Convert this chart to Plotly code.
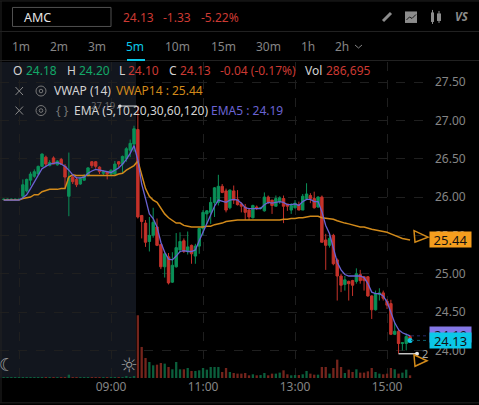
import plotly.graph_objects as go

SYMBOL = "AMC"
TABS = ["1m", "2m", "3m", "5m", "10m", "15m", "30m", "1h", "2h"]

open_ = [25.97,25.97,25.97,25.97,25.97,26.01,26.08,26.22,26.27,26.30,
 26.40,26.52,26.41,26.51,26.42,26.49,26.40,26.01,26.26,26.23,
 26.17,26.22,26.28,26.46,26.46,26.39,26.31,26.33,26.30,26.30,
 26.46,26.43,26.50,26.61,26.69,26.88,25.76,25.66,25.42,25.50,
 25.61,25.38,25.09,25.22,24.89,25.09,25.31,25.43,25.29,25.37,
 25.23,25.36,25.59,25.78,25.80,25.93,25.93,26.14,26.08,25.86,
 26.08,25.97,25.91,25.87,25.83,25.73,25.87,25.85,25.82,26.00,
 25.96,25.88,25.94,25.98,25.91,25.83,25.86,25.90,25.83,25.98,
 26.02,25.98,25.87,26.00,25.44,25.37,25.50,25.18,24.97,24.86,
 24.90,24.91,24.90,24.99,24.96,24.96,24.71,24.53,24.73,24.75,
 24.64,24.61,24.21,24.25,24.09,24.09,24.18]
high = [25.98,25.98,25.98,25.98,25.98,26.23,26.24,26.33,26.36,26.41,
 26.57,26.54,26.48,26.53,26.48,26.51,26.43,26.58,26.28,26.26,
 26.26,26.30,26.39,26.47,26.47,26.40,26.35,26.34,26.36,26.47,
 26.47,26.54,26.65,26.75,26.93,27.19,25.76,25.70,25.74,25.86,
 25.72,25.38,25.28,25.27,25.28,25.53,25.54,25.46,25.55,25.38,
 25.39,25.60,25.83,25.83,26.00,26.13,26.29,26.17,26.11,26.10,
 26.15,26.09,25.93,25.91,25.85,25.90,25.89,25.87,26.06,26.02,
 25.96,26.02,26.01,26.02,25.91,25.92,25.96,25.94,26.04,26.18,
 26.05,26.07,26.01,26.02,25.52,25.52,25.52,25.20,25.00,24.97,
 24.91,24.92,25.07,25.05,24.97,24.97,24.72,24.78,24.81,24.78,
 24.67,24.66,24.37,24.28,24.10,24.22,24.20]
low = [25.96,25.96,25.96,25.96,25.96,25.99,26.06,26.15,26.25,26.29,
 26.39,26.40,26.40,26.43,26.41,26.42,26.12,25.75,26.17,26.13,
 26.16,26.21,26.27,26.38,26.37,26.30,26.28,26.23,26.28,26.29,
 26.39,26.31,26.46,26.52,26.59,25.72,25.46,25.35,25.29,25.47,
 25.36,25.06,24.95,24.86,24.88,25.08,25.28,25.27,25.25,25.13,
 25.13,25.26,25.50,25.65,25.65,25.74,25.89,26.05,25.80,25.84,
 25.91,25.89,25.80,25.70,25.70,25.72,25.83,25.84,25.81,25.91,
 25.78,25.88,25.91,25.66,25.82,25.78,25.85,25.83,25.83,25.96,
 25.92,25.85,25.86,25.41,25.05,25.34,25.11,24.65,24.76,24.78,
 24.65,24.71,24.87,24.87,24.78,24.70,24.41,24.52,24.65,24.65,
 24.54,24.20,24.20,23.96,24.00,24.00,24.10]
close = [25.97,25.97,25.97,25.97,25.97,26.16,26.23,26.30,26.33,26.40,
 26.56,26.43,26.45,26.43,26.47,26.43,26.26,26.25,26.20,26.16,
 26.24,26.28,26.38,26.41,26.40,26.33,26.33,26.30,26.35,26.43,
 26.43,26.53,26.63,26.70,26.89,25.74,25.68,25.41,25.50,25.67,
 25.37,25.09,25.26,24.88,25.11,25.34,25.42,25.29,25.35,25.26,
 25.36,25.59,25.80,25.82,25.93,26.12,26.14,26.06,25.83,26.09,
 25.96,25.90,25.88,25.80,25.74,25.89,25.85,25.86,26.00,25.93,
 25.89,25.98,25.99,25.88,25.88,25.89,25.92,25.83,26.01,26.04,
 25.98,25.86,26.00,25.41,25.37,25.46,25.13,24.97,24.85,24.92,
 24.87,24.85,25.00,24.91,24.91,24.71,24.53,24.74,24.75,24.68,
 24.59,24.21,24.25,24.09,24.10,24.18,24.13]
ema5 = [25.96,25.96,25.96,25.96,25.96,25.99,26.03,26.11,26.20,26.28,
 26.37,26.40,26.43,26.44,26.45,26.43,26.40,26.35,26.29,26.25,
 26.25,26.26,26.31,26.34,26.36,26.35,26.34,26.33,26.32,26.35,
 26.38,26.43,26.49,26.57,26.67,26.48,26.17,25.98,25.78,25.72,
 25.61,25.41,25.28,25.19,25.18,25.23,25.29,25.30,25.29,25.29,
 25.31,25.43,25.54,25.65,25.78,25.88,25.96,25.95,25.93,25.96,
 25.97,25.96,25.92,25.86,25.85,25.85,25.85,25.85,25.90,25.93,
 25.92,25.93,25.94,25.93,25.90,25.90,25.91,25.89,25.94,25.97,
 25.97,25.94,25.94,25.81,25.63,25.52,25.33,25.15,25.05,24.99,
 24.97,24.97,24.97,24.97,24.95,24.87,24.76,24.74,24.74,24.71,
 24.63,24.48,24.36,24.27,24.23,24.21,24.19]
vwap14 = [25.96,25.96,25.96,25.96,25.96,25.98,25.99,26.00,26.03,26.03,
 26.07,26.09,26.10,26.10,26.10,26.11,26.11,26.26,26.29,26.28,
 26.28,26.28,26.28,26.28,26.28,26.28,26.28,26.28,26.28,26.28,
 26.30,26.31,26.35,26.38,26.41,26.47,26.28,26.11,26.01,25.96,
 25.93,25.86,25.78,25.73,25.69,25.66,25.66,25.63,25.62,25.61,
 25.61,25.61,25.61,25.62,25.62,25.64,25.65,25.66,25.68,25.69,
 25.69,25.70,25.70,25.70,25.70,25.70,25.70,25.70,25.70,25.70,
 25.70,25.70,25.70,25.71,25.71,25.72,25.72,25.73,25.73,25.74,
 25.75,25.75,25.75,25.73,25.72,25.72,25.71,25.69,25.67,25.66,
 25.65,25.64,25.62,25.61,25.61,25.59,25.58,25.57,25.56,25.55,
 25.54,25.52,25.50,25.47,25.46,25.45,25.44]
volume = [30000,30000,30000,30000,30000,100000,30000,30000,30000,30000,
 30000,30000,30000,30000,30000,30000,30000,360000,30000,30000,
 30000,30000,30000,30000,30000,30000,30000,30000,30000,30000,
 30000,30000,140000,30000,140000,6770000,3350000,2160000,1730000,1370000,
 1440000,1620000,1550000,1190000,940000,1730000,940000,940000,1080000,760000,
 760000,830000,1080000,900000,1190000,1190000,1190000,650000,1080000,650000,
 540000,470000,470000,540000,290000,400000,290000,320000,540000,290000,
 470000,470000,580000,830000,400000,290000,320000,320000,400000,760000,
 470000,360000,360000,1190000,1190000,470000,1080000,1980000,1190000,540000,
 900000,650000,940000,580000,580000,720000,1080000,650000,470000,400000,
 470000,1080000,940000,470000,580000,900000,286695]

bar_minutes = [400 + 5 * i for i in range(len(close))]  # bar end time, minutes after midnight
tick_minutes = [420, 540, 660, 780, 900]
tick_labels = ["", "09:00", "11:00", "13:00", "15:00"]
price_ticks = [24.0, 24.5, 25.0, 25.5, 26.0, 26.5, 27.0, 27.5]

W, H = 479, 405
L, R, T, B = 0, 428, 62, 377.7
FONT = "Noto Sans"
BG = "#000000"
SHADE = "#12161e"
GRID = "#1f1f1f"
GREEN, RED = "#0a9058", "#c4322a"
VGREEN, VRED = "#0b5f3c", "#74241c"
TXTGREEN, TXTRED = "#12a868", "#cc3a33"
GREY, LIGHT = "#858585", "#d2d2d2"
ORANGE, PURPLE, CYAN = "#d28a1a", "#6a63d3", "#0bc8e8"


def px(x):
    return (x - L) / (R - L)


def py(y):
    return (B - y) / (B - T)


shapes, annos = [], []


def rect(x0, y0, x1, y1, fill=None, line=None, lw=1):
    shapes.append(dict(type="rect", xref="paper", yref="paper", x0=px(x0), x1=px(x1), y0=py(y0), y1=py(y1),
                       fillcolor=fill, line=dict(color=line, width=lw if line else 0), layer="below"))


def seg(x0, y0, x1, y1, color, lw=1, dash=None, layer="above"):
    shapes.append(dict(type="line", xref="paper", yref="paper", x0=px(x0), x1=px(x1), y0=py(y0), y1=py(y1),
                       line=dict(color=color, width=lw, dash=dash), layer=layer))


def circ(cx, cy, r, line=None, fill=None, lw=1):
    shapes.append(dict(type="circle", xref="paper", yref="paper", x0=px(cx - r), x1=px(cx + r), y0=py(cy + r),
                       y1=py(cy - r), fillcolor=fill, line=dict(color=line, width=lw if line else 0), layer="above"))


def tri(points, color):
    d = "M " + " L ".join(f"{px(x):.4f} {py(y):.4f}" for x, y in points) + " Z"
    shapes.append(dict(type="path", xref="paper", yref="paper", path=d, line=dict(color=color, width=1.5), layer="above"))


def text(x, y, s, color=LIGHT, size=12, anchor="left", **kw):
    annos.append(dict(xref="paper", yref="paper", x=px(x), y=py(y), text=s, showarrow=False, xanchor=anchor,
                      yanchor="middle", borderpad=0, font=dict(family=kw.pop("family", FONT), size=size, color=color), **kw))


# frame + panels
rect(0, T, 136, B, fill=SHADE)
seg(0, 1, W, 1, "#222222")
seg(0, 31.5, W, 31.5, "#222222")
seg(0, 60.5, W, 60.5, "#222222")
seg(0, 402.5, W, 402.5, "#222222")
seg(1, 1, 1, 402, "#222222")

# header
shapes.append(dict(type="rect", xref="paper", yref="paper", x0=px(12.5), x1=px(111), y0=py(7.5), y1=py(26.5),
                   line=dict(color="#505050", width=1)))
text(23, 17.5, SYMBOL, "#e4e4e4", 12.5)
text(122, 17.5, "24.13", TXTRED)
text(162, 17.5, "-1.33", TXTRED)
text(200, 17.5, "-5.22%", TXTRED)

# header icons
seg(383, 21, 391, 13, "#8c8c8c", 3)
rect(405, 11.5, 417, 23, fill="#8c8c8c")
seg(406.5, 20, 409.5, 17, "#1a1a1a", 1)
seg(409.5, 17, 412, 18.5, "#1a1a1a", 1)
seg(412, 18.5, 416, 14.5, "#1a1a1a", 1)
seg(432.5, 10, 432.5, 24, "#8c8c8c", 1)
rect(431, 12.5, 434, 22, fill="#8c8c8c")
seg(439, 11, 439, 23, "#8c8c8c", 1)
rect(437, 13.5, 441, 21, fill="#8c8c8c")
text(454, 16.5, "<b><i>VS</i></b>", "#8c8c8c", 11.5)

# tabs
tab_x = [21, 59, 97, 135, 177.5, 223, 268, 308, 342]
for name, x in zip(TABS, tab_x):
    text(x, 46.5, name, CYAN if name == "5m" else GREY, 12, anchor="center")
seg(355, 45, 358.5, 48, GREY, 1)
seg(358.5, 48, 362, 45, GREY, 1)
seg(127, 60, 145, 60, CYAN, 2)

# OHLC row
row = [(12, "O", LIGHT), (24.5, "24.18", TXTGREEN), (65.5, "H", LIGHT), (77.5, "24.20", TXTGREEN),
       (118, "L", LIGHT), (127, "24.10", TXTRED), (168, "C", LIGHT), (178.5, "24.13", TXTRED),
       (219, "-0.04 (-0.17%)", TXTRED), (304, "Vol", LIGHT), (325, "286,695", TXTRED)]
for x, s, c in row:
    text(x, 70.5, s, c)

# indicator rows
for y in (91, 110.5):
    seg(15.5, y - 4, 23, y + 4, "#8a8a8a", 1)
    seg(15.5, y + 4, 23, y - 4, "#8a8a8a", 1)
    circ(41, y, 5, line="#777777")
    circ(41, y, 1.8, line="#777777")
text(53, 90.5, "VWAP (14)", LIGHT)
text(115, 90.5, "VWAP14 : 25.44", ORANGE)
text(55, 110.5, "{ }", "#777777")
text(73, 110.5, "EMA (5,10,20,30,60,120)", LIGHT)
text(210, 110.5, "EMA5 : 24.19", PURPLE)

# high / low markers
text(90, 105, "27.19", "#666666", 9.5)
seg(118, 106, 137, 106, "#e0e0e0", 1)
circ(120, 106, 1.6, fill="#e0e0e0")
seg(398.5, 353.5, 417, 353.5, "#f0f0f0", 1.2)
circ(417, 353.5, 2, fill="#e8e8e8")
text(421, 353, "2", "#a8a8a8", 11)

# day / night
text(6.5, 364, "☾", "#9a9a9a", 18, anchor="center", family="DejaVu Sans")
text(128.5, 364.5, "☼", "#9a9a9a", 20, anchor="center", family="DejaVu Sans")

# right side price flags
tri([(414, 230.5), (428, 237), (415, 242)], ORANGE)
tri([(414, 354.5), (427, 360.5), (415, 366)], ORANGE)
shapes.append(dict(type="line", xref="paper", yref="y", x0=px(411), x1=px(428), y0=ema5[-1], y1=ema5[-1],
                   line=dict(color="#2a2a66", width=1, dash="dot")))
shapes.append(dict(type="line", xref="paper", yref="y", x0=px(411), x1=px(428), y0=close[-1], y1=close[-1],
                   line=dict(color="#0d5a68", width=1, dash="dot")))


def flag(value, bg, ycenter_shift=0):
    annos.append(dict(xref="paper", yref="y", x=px(428.5), y=value, text=f"{value:.2f}", showarrow=False,
                      xanchor="left", yanchor="middle", bgcolor=bg, width=40, height=14, borderpad=0.5,
                      yshift=ycenter_shift, font=dict(family=FONT, size=13, color="#111111")))


flag(ema5[-1], "#8478e6", 1.5)
flag(close[-1], CYAN, 0)
flag(vwap14[-1], "#f59e1e", 0)

vol_colors = [VGREEN if c >= o else VRED for o, c in zip(open_, close)]

fig = go.Figure()
fig.add_trace(go.Bar(x=bar_minutes, y=volume, width=3, marker=dict(color=vol_colors, line=dict(width=0)),
                     yaxis="y2", hoverinfo="skip"))
fig.add_trace(go.Candlestick(x=bar_minutes, open=open_, high=high, low=low, close=close,
                             increasing=dict(line=dict(color=GREEN, width=1), fillcolor=GREEN),
                             decreasing=dict(line=dict(color=RED, width=1), fillcolor=RED),
                             whiskerwidth=0, hoverinfo="skip"))
fig.add_trace(go.Scatter(x=bar_minutes, y=vwap14, mode="lines", line=dict(color=ORANGE, width=1.5), hoverinfo="skip"))
fig.add_trace(go.Scatter(x=bar_minutes, y=ema5, mode="lines", line=dict(color=PURPLE, width=1.3), hoverinfo="skip"))
fig.add_trace(go.Scatter(x=bar_minutes[-1:], y=close[-1:], mode="markers", marker=dict(color=CYAN, size=5),
                         hoverinfo="skip"))

fig.update_layout(
    width=W, height=H, showlegend=False, paper_bgcolor=BG, plot_bgcolor="rgba(0,0,0,0)",
    margin=dict(l=L, r=W - R, t=T, b=H - B, pad=0),
    font=dict(family=FONT), boxgap=0.1,
    shapes=shapes, annotations=annos,
    xaxis=dict(range=[395.2, 953.4], tickmode="array", tickvals=tick_minutes, ticktext=tick_labels,
               tickfont=dict(size=12, color=GREY, family=FONT), ticks="", showline=False, zeroline=False,
               showgrid=True, gridcolor=GRID, griddash="dash", gridwidth=1, rangeslider=dict(visible=False),
               fixedrange=True),
    yaxis=dict(range=[23.64, 27.761], side="right", tickmode="array", tickvals=price_ticks,
               ticktext=[f"{v:.2f}" for v in price_ticks], tickfont=dict(size=12, color=GREY, family=FONT),
               ticks="", showline=False, zeroline=False, showgrid=True, gridcolor=GRID, griddash="dash",
               gridwidth=1, ticklabelstandoff=6, fixedrange=True),
    yaxis2=dict(range=[0, 34100000], overlaying="y", visible=False, fixedrange=True),
)

fig.write_html("out.html", config=dict(displayModeBar=False),
               post_script="document.body.style.margin='0';document.body.style.background='#000';"
                           "document.documentElement.style.overflow='hidden';")
